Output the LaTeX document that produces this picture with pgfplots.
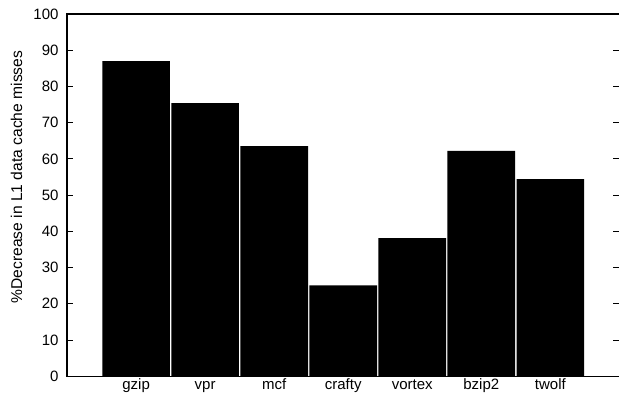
\documentclass[border=0pt]{standalone}
\usepackage{pgfplots}
\pgfplotsset{compat=1.18}
\usepackage{fontspec}
\setmainfont{Liberation Sans}
\begin{document}
\begin{tikzpicture}
\useasboundingbox (-67pt,-21pt) rectangle (551.6pt,376pt);
\begin{axis}[
  at={(0pt,0pt)}, anchor=south west,
  scale only axis,
  width=552pt, height=362pt,
  xmin=0, xmax=8, ymin=0, ymax=100,
  ytick={0,10,...,100},
  xtick={1,...,7},
  xticklabels={gzip,vpr,mcf,crafty,vortex,bzip2,twolf},
  major x tick style={draw=none},
  tick align=inside,
  ytick pos=both,
  major tick length=6pt,
  axis line style={line width=1.3pt},
  every tick/.style={line width=1pt, black},
  /pgf/number format/assume math mode=true,
  tick label style={font=\fontsize{15}{17}\selectfont},
  yticklabel style={anchor=east, xshift=-5pt},
  xticklabel style={anchor=base, yshift=-13pt},
  ylabel={\%Decrease in L1 data cache misses},
  ylabel style={font=\fontsize{15.6}{17}\selectfont, anchor=center, at={(axis description cs:-0.0915,0.55)}},
]
\addplot[ybar, bar width=0.98, fill=black, draw=none] coordinates {
  (1,87.0) (2,75.4) (3,63.5) (4,25.1) (5,38.1) (6,62.2) (7,54.4)
};
\end{axis}
\end{tikzpicture}
\end{document}
